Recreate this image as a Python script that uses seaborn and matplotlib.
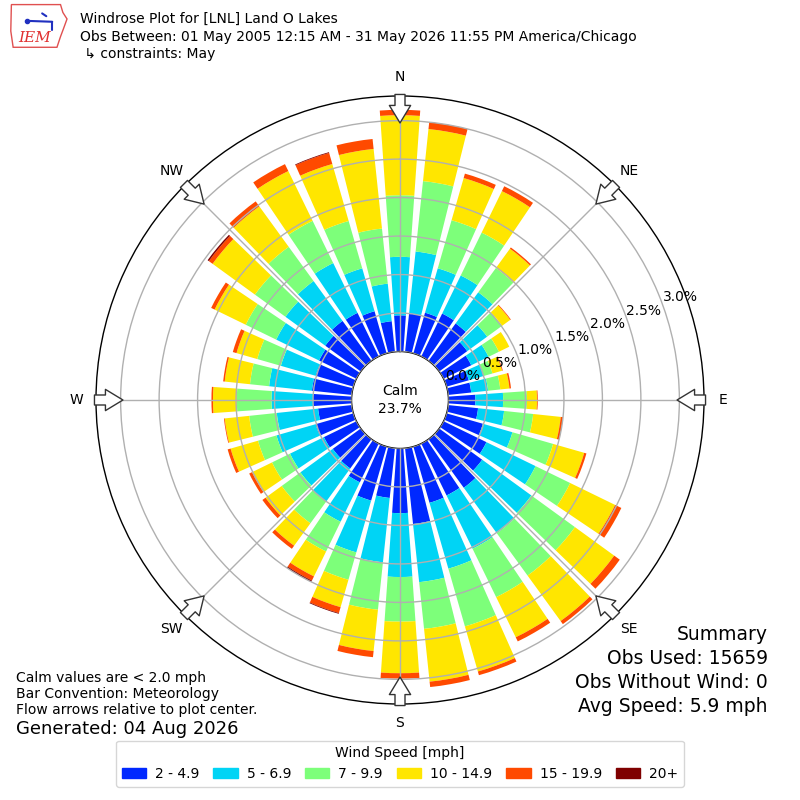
import numpy as np
import matplotlib
matplotlib.use("Agg")
import matplotlib.pyplot as plt
from matplotlib.patches import Patch, Polygon
import seaborn as sns

# direction bins (degrees, meteorological convention)
directions = np.arange(0, 360, 10)
compass_labels = ['N', 'NE', 'E', 'SE', 'S', 'SW', 'W', 'NW']
speed_bins = ['2 - 4.9', '5 - 6.9', '7 - 9.9', '10 - 14.9', '15 - 19.9', '20+']
bin_colors = ['#0028ff', '#00d4f5', '#7dff7a', '#ffe600', '#ff4a00', '#7f0000']

# percent of observations per direction and speed bin
pct_2_5 = [0.47, 0.50, 0.55, 0.62, 0.60, 0.45, 0.40, 0.30, 0.30, 0.35, 0.39, 0.49,
           0.62, 0.69, 0.78, 0.75, 0.76, 0.99, 0.84, 0.65, 0.73, 0.56, 0.47, 0.45,
           0.47, 0.51, 0.44, 0.50, 0.52, 0.51, 0.54, 0.57, 0.64, 0.63, 0.57, 0.40]
pct_5_7 = [0.76, 0.81, 0.60, 0.55, 0.50, 0.32, 0.25, 0.20, 0.22, 0.36, 0.34, 0.40,
           0.71, 0.79, 0.73, 0.77, 0.89, 0.76, 0.83, 0.84, 0.70, 0.57, 0.53, 0.52,
           0.49, 0.53, 0.54, 0.54, 0.56, 0.47, 0.62, 0.64, 0.64, 0.72, 0.58, 0.49]
pct_7_10 = [0.80, 0.92, 0.65, 0.62, 0.39, 0.24, 0.15, 0.12, 0.16, 0.31, 0.38, 0.55,
            0.50, 0.70, 0.68, 0.70, 0.78, 0.61, 0.58, 0.62, 0.37, 0.43, 0.35, 0.30,
            0.26, 0.25, 0.36, 0.45, 0.25, 0.32, 0.44, 0.49, 0.55, 0.61, 0.64, 0.72]
pct_10_15 = [1.04, 0.68, 0.57, 0.60, 0.31, 0.13, 0.15, 0.13, 0.12, 0.13, 0.36, 0.42,
             0.65, 0.63, 0.73, 0.58, 0.61, 0.69, 0.67, 0.54, 0.37, 0.36, 0.36, 0.26,
             0.29, 0.37, 0.32, 0.31, 0.33, 0.28, 0.45, 0.68, 0.65, 0.72, 0.77, 1.04]
pct_15_20 = [0.07, 0.09, 0.06, 0.07, 0.02, 0.01, 0.00, 0.01, 0.02, 0.01, 0.03, 0.03,
             0.09, 0.09, 0.05, 0.06, 0.05, 0.07, 0.07, 0.08, 0.08, 0.06, 0.05, 0.05,
             0.04, 0.04, 0.01, 0.02, 0.02, 0.05, 0.05, 0.06, 0.08, 0.10, 0.15, 0.13]
pct_20_up = [0.00, 0.00, 0.00, 0.00, 0.00, 0.00, 0.00, 0.00, 0.00, 0.00, 0.00, 0.00,
             0.00, 0.00, 0.00, 0.00, 0.00, 0.00, 0.00, 0.00, 0.01, 0.02, 0.00, 0.00,
             0.00, 0.00, 0.00, 0.00, 0.00, 0.00, 0.00, 0.02, 0.00, 0.00, 0.01, 0.00]
calm_pct = 23.7
r_ticks = [0.0, 0.5, 1.0, 1.5, 2.0, 2.5, 3.0]

header = ["Windrose Plot for [LNL] Land O Lakes",
          "Obs Between: 01 May 2005 12:15 AM - 31 May 2026 11:55 PM America/Chicago",
          " \u21b3 constraints: May"]
notes = ["Calm values are < 2.0 mph", "Bar Convention: Meteorology",
         "Flow arrows relative to plot center."]
summary = ["Summary", "Obs Used: 15659", "Obs Without Wind: 0", "Avg Speed: 5.9 mph"]


def draw_logo(fig):
    """Rough stand-in for the IEM logo."""
    lax = fig.add_axes([0.012, 0.938, 0.074, 0.058])
    lax.set_xlim(0, 1)
    lax.set_ylim(0, 1)
    lax.axis('off')
    outline = Polygon([(0.03, 0.97), (0.86, 0.97), (0.9, 0.8), (0.97, 0.66),
                       (0.91, 0.45), (0.86, 0.28), (0.8, 0.05), (0.06, 0.05),
                       (0.02, 0.4)], closed=True, fill=False,
                      edgecolor='#e05050', linewidth=1)
    lax.add_patch(outline)
    lax.plot([0.28, 0.72], [0.62, 0.6], color='#2030c0', lw=1.5)
    lax.plot([0.72, 0.72], [0.6, 0.42], color='#2030c0', lw=1.5)
    lax.plot([0.3], [0.62], 'o', color='#2030c0', ms=3)
    lax.plot([0.55, 0.62], [0.78, 0.72], color='#2030c0', lw=1.5)
    lax.text(0.43, 0.24, 'IEM', color='#e03030', fontsize=11, style='italic',
             family='DejaVu Serif', ha='center', va='center')


def main():
    sns.set_theme(style="white")
    plt.rcParams['font.family'] = ['DejaVu Sans']
    plt.rcParams['text.color'] = 'black'
    plt.rcParams['xtick.color'] = 'black'
    plt.rcParams['ytick.color'] = 'black'
    plt.rcParams['axes.labelcolor'] = 'black'

    fig = plt.figure(figsize=(8, 8), dpi=100)
    ax = fig.add_axes([0.12, 0.12, 0.76, 0.76], projection='polar')
    ax.set_theta_zero_location('N')
    ax.set_theta_direction(-1)

    theta = np.deg2rad(directions)
    width = np.deg2rad(8)
    bottom = np.zeros(len(directions))
    series = [pct_2_5, pct_5_7, pct_7_10, pct_10_15, pct_15_20, pct_20_up]
    for vals, color, label in zip(series, bin_colors, speed_bins):
        vals = np.asarray(vals)
        ax.bar(theta, vals, width=width, bottom=bottom, color=color,
               linewidth=0, label=label, zorder=1)
        bottom += vals

    ax.set_ylim(0, 3.32)
    ax.set_rorigin(-0.63)
    ax.set_yticks(r_ticks)
    ax.set_yticklabels([f'{v:.1f}%' for v in r_ticks], fontsize=10)
    ax.set_rlabel_position(70)
    ax.set_xticks(np.deg2rad(np.arange(0, 360, 45)))
    ax.set_xticklabels(compass_labels, fontsize=10)
    ax.tick_params(axis='x', pad=1)
    ax.grid(True, color='#b0b0b0', linewidth=1)
    ax.set_axisbelow(False)
    for name, spine in ax.spines.items():
        spine.set_color('black')
        spine.set_linewidth(1)

    # flow arrows at the rim, pointing to the center
    for ang in np.arange(0, 360, 45):
        ax.annotate('', xy=(np.deg2rad(ang), 2.97), xytext=(np.deg2rad(ang), 3.34),
                    arrowprops=dict(arrowstyle='simple,head_length=0.7,head_width=0.85,'
                                               'tail_width=0.4',
                                    fc='white', ec='#333333', lw=1,
                                    shrinkA=0, shrinkB=0, mutation_scale=18),
                    annotation_clip=False, zorder=5)

    ax.text(0.5, 0.5, f'Calm\n{calm_pct:.1f}%', transform=ax.transAxes,
            ha='center', va='center', fontsize=10, linespacing=1.3)

    # header text
    for i, line in enumerate(header):
        fig.text(0.1, 1 - (19 + 17.5 * i) / 800, line, fontsize=10, va='center')
    draw_logo(fig)

    # bottom left notes
    for i, line in enumerate(notes):
        fig.text(0.02, 1 - (678 + 16 * i) / 800, line, fontsize=10, va='center')
    fig.text(0.02, 1 - 729 / 800, "Generated: 04 Aug 2026", fontsize=13, va='center')

    # bottom right summary
    for i, line in enumerate(summary):
        fig.text(0.96, 1 - (635 + 23.7 * i) / 800, line, fontsize=13.5,
                 ha='right', va='center')

    handles = [Patch(color=c, label=l) for c, l in zip(bin_colors, speed_bins)]
    fig.legend(handles=handles, loc='lower center', bbox_to_anchor=(0.5, 0.008),
               ncol=6, title='Wind Speed [mph]', fontsize=10, title_fontsize=10,
               frameon=True, handlelength=1.75, handleheight=0.7, handletextpad=0.65,
               columnspacing=1.0, edgecolor='#cccccc')

    fig.savefig('out.png', dpi=100)


if __name__ == "__main__":
    main()
